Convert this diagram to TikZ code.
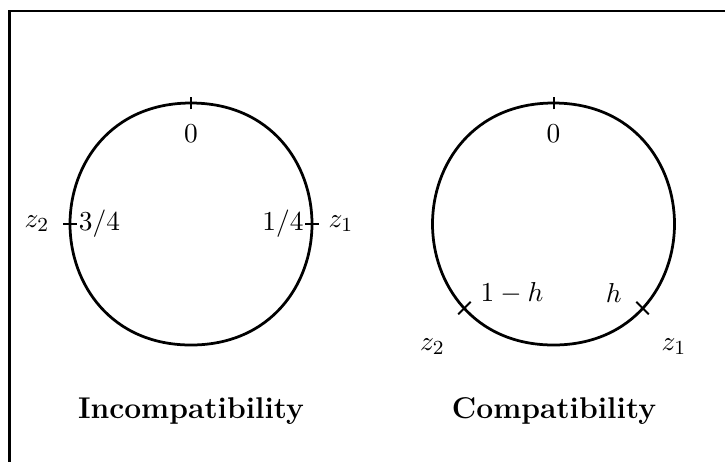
\documentclass[tikz,border=0pt]{standalone}
\begin{document}
\begin{tikzpicture}[x=0.4pt,y=-0.4pt,
  curve/.style={line width=1.1pt},
  tickline/.style={line width=0.8pt},
  lab/.style={inner sep=1pt,font=\fontsize{10.95}{13}\selectfont},
  title/.style={font=\large\bfseries}]
\useasboundingbox (0,0) rectangle (725,461);
% frame
\coordinate (fbl) at (9.3,470);
\coordinate (ftl) at (9.3,11.2);
\coordinate (ftr) at (730,11.2);
\draw[line width=1pt] (fbl) -- (ftl) -- (ftr);
% left shape
\begin{scope}[shift={(191,224)}]
  \draw[curve] (0,-121) .. controls (80,-121) and (121,-60) .. (121,0)
    .. controls (121,60) and (80,121) .. (0,121)
    .. controls (-80,121) and (-121,60) .. (-121,0)
    .. controls (-121,-60) and (-80,-121) .. cycle;
  \coordinate (Lt) at (0,-121);
  \coordinate (Ll) at (-121,0);
  \coordinate (Lr) at (121,0);
  \draw[tickline] ([yshift=-2.5pt]Lt) -- ([yshift=2.5pt]Lt);
  \draw[tickline] ([xshift=-2.8pt]Ll) -- ([xshift=2.8pt]Ll);
  \draw[tickline] ([xshift=-2.8pt]Lr) -- ([xshift=2.8pt]Lr);
\end{scope}
\node[lab] (l0) at (191,134) {$0$};
\node[lab] (l34) at (99.5,224) {$3/4$};
\node[lab] (l14) at (283,224) {$1/4$};
\node[lab] (lz2) at (37,224) {$z_2$};
\node[lab] (lz1) at (341,224) {$z_1$};
\node[title] (tinc) at (191,411) {Incompatibility};
% right shape
\begin{scope}[shift={(553.5,224)}]
  \draw[curve] (0,-121) .. controls (80,-121) and (121,-60) .. (121,0)
    .. controls (121,60) and (80,121) .. (0,121)
    .. controls (-80,121) and (-121,60) .. (-121,0)
    .. controls (-121,-60) and (-80,-121) .. cycle;
  \coordinate (Rt) at (0,-121);
  \coordinate (Rh) at (89,84);
  \coordinate (Rmh) at (-89,84);
  \draw[tickline] ([yshift=-2.5pt]Rt) -- ([yshift=2.5pt]Rt);
  \draw[tickline] ([xshift=-2.5pt,yshift=2.5pt]Rh) -- ([xshift=2.5pt,yshift=-2.5pt]Rh);
  \draw[tickline] ([xshift=-2.5pt,yshift=-2.5pt]Rmh) -- ([xshift=2.5pt,yshift=2.5pt]Rmh);
\end{scope}
\node[lab] (r0) at (553.5,134) {$0$};
\node[lab] (r1h) at (512,293) {$1-h$};
\node[lab] (rh) at (613.7,293) {$h$};
\node[lab] (rz2) at (432.5,347) {$z_2$};
\node[lab] (rz1) at (674,347) {$z_1$};
\node[title] (tcomp) at (554,411) {Compatibility};
\end{tikzpicture}
\end{document}
